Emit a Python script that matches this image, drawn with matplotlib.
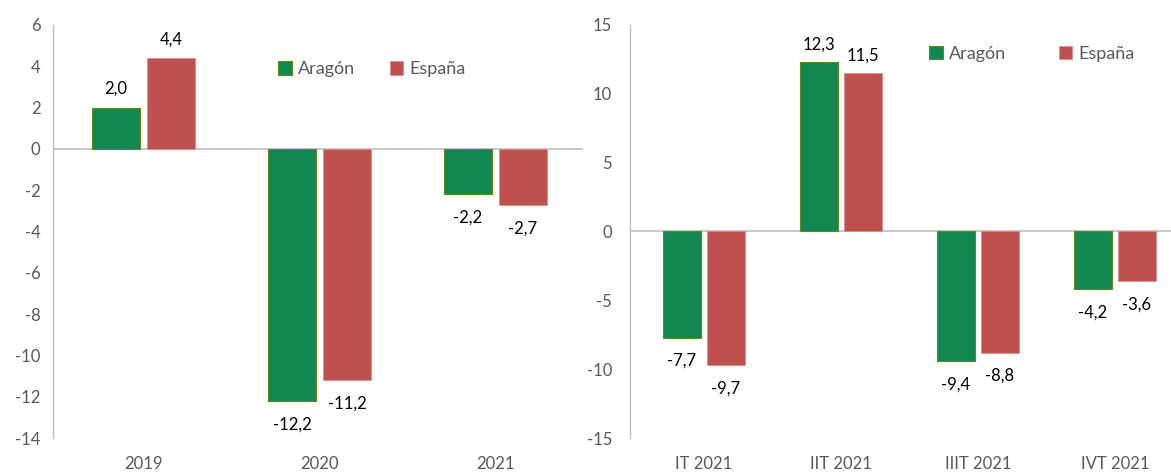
import matplotlib
matplotlib.use("Agg")
import matplotlib.pyplot as plt
import numpy as np

plt.rcParams['font.family'] = ['Lato', 'DejaVu Sans']
plt.rcParams['axes.unicode_minus'] = False

# annual data
years = ['2019', '2020', '2021']
aragon_year = [2.0, -12.2, -2.2]
espana_year = [4.4, -11.2, -2.7]

# quarterly data
quarters = ['IT 2021', 'IIT 2021', 'IIIT 2021', 'IVT 2021']
aragon_q = [-7.7, 12.3, -9.4, -4.2]
espana_q = [-9.7, 11.5, -8.8, -3.6]

GREEN = '#138750'
RED = '#C0504D'
GREY = '#595959'


def fmt(v):
    return ('%.1f' % v).replace('.', ',')


def draw_panel(ax, cats, s1, s2, width, offset, yticks, pos_off, neg_off, leg_pos, colspace, ypad):
    x = np.arange(len(cats))
    b1 = ax.bar(x - offset, s1, width, color=GREEN, edgecolor='#5f8a1a', linewidth=0.8, label='Aragón')
    b2 = ax.bar(x + offset, s2, width, color=RED, edgecolor='#d98c8a', linewidth=0.5, label='España')

    # value labels above / below the bars
    for bars, vals in ((b1, s1), (b2, s2)):
        for b, v in zip(bars, vals):
            cx = b.get_x() + b.get_width() / 2
            y = v + pos_off if v >= 0 else v - neg_off
            ax.text(cx, y, fmt(v), ha='center', va='center', fontsize=12, color='black')

    ax.axhline(0, color='#bfbfbf', linewidth=1.2, zorder=0)
    ax.set_ylim(yticks[0], yticks[-1])
    ax.set_yticks(yticks)
    ax.set_xticks(x)
    ax.set_xticklabels(cats)
    ax.tick_params(axis='y', length=0, labelsize=12, labelcolor=GREY, pad=ypad)
    ax.tick_params(axis='x', length=0, labelsize=12, labelcolor=GREY, pad=13)
    for s in ('top', 'right', 'bottom'):
        ax.spines[s].set_visible(False)
    ax.spines['left'].set_color('#bfbfbf')
    ax.spines['left'].set_linewidth(1.0)

    ax.legend(loc='center', bbox_to_anchor=leg_pos, ncol=2, frameon=False,
              fontsize=13, handlelength=0.75, handleheight=0.75, handletextpad=0.35,
              columnspacing=colspace, labelcolor=GREY)


fig = plt.figure(figsize=(11.71, 4.73), dpi=100)

ax1 = fig.add_axes([53 / 1171, 35 / 473, 530 / 1171, 413 / 473])
draw_panel(ax1, years, aragon_year, espana_year, 0.275, 0.156,
           np.arange(-14, 7, 2), 0.9, 1.15, (0.602, 0.893), 1.9, 9)
ax1.set_xlim(-0.514, 2.497)

ax2 = fig.add_axes([630 / 1171, 35 / 473, 541 / 1171, 413 / 473])
draw_panel(ax2, quarters, aragon_q, espana_q, 0.28, 0.16,
           np.arange(-15, 16, 5), 1.3, 1.7, (0.743, 0.93), 2.9, 13)
ax2.set_xlim(-0.54, 3.41)

fig.savefig('out.png', dpi=100)
